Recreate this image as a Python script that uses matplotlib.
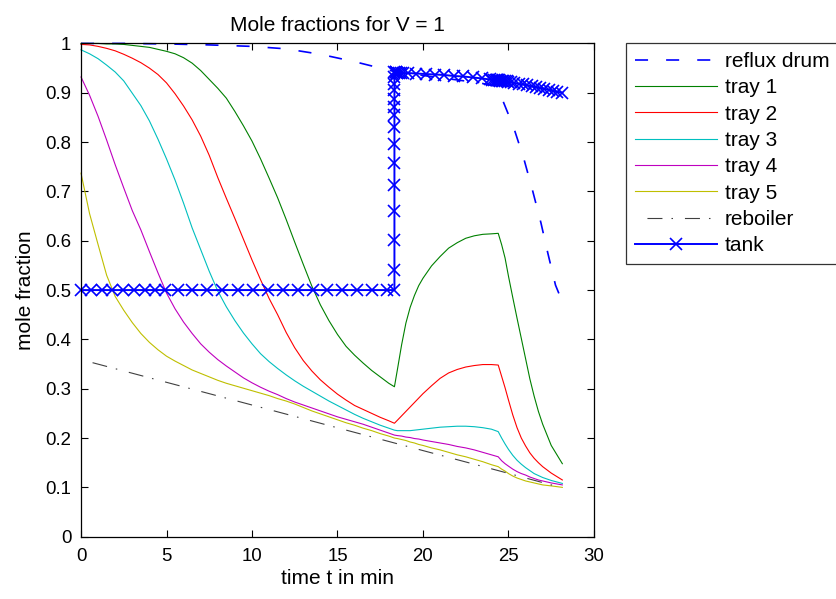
import matplotlib
matplotlib.use("Agg")
import matplotlib.pyplot as plt

plt.rcParams['font.family'] = ['Liberation Sans', 'DejaVu Sans']
plt.rcParams['lines.scale_dashes'] = False

# common time grid for the trays (min)
t = [0, 0.5, 1, 1.5, 2, 2.5, 3, 3.5, 4, 4.5, 5, 5.5, 6, 6.5, 7, 7.5, 8, 8.5, 9, 9.5,
     10, 10.5, 11, 11.5, 12, 12.5, 13, 13.5,
     14, 14.5, 15, 15.5, 16, 16.5, 17, 17.5, 18,
     18.33, 18.5, 18.75, 19, 19.25, 19.5, 19.75, 20, 20.5, 21, 21.5, 22, 22.5, 23, 23.5, 24, 24.4,
     24.6, 24.8, 25, 25.25, 25.5, 25.75, 26, 26.25, 26.5, 26.75, 27, 27.5, 28.15]

tray1 = [1.000, 1.000, 1.000, 0.999, 0.999, 0.998, 0.996, 0.994, 0.992, 0.988,
         0.984, 0.979, 0.971, 0.960, 0.945, 0.927, 0.909, 0.889, 0.862, 0.833,
         0.802, 0.766, 0.727, 0.687, 0.643, 0.597, 0.552, 0.508,
         0.470, 0.438, 0.410, 0.386, 0.368, 0.352, 0.337, 0.324, 0.311,
         0.304, 0.338, 0.389, 0.433, 0.465, 0.489, 0.509, 0.524, 0.549, 0.568, 0.585, 0.596, 0.605, 0.610, 0.613, 0.614, 0.615,
         0.592, 0.565, 0.528, 0.485, 0.443, 0.402, 0.361, 0.320, 0.285, 0.254, 0.228, 0.185, 0.148]
tray2 = [0.998, 0.997, 0.994, 0.990, 0.985, 0.978, 0.970, 0.961, 0.950, 0.937,
         0.920, 0.898, 0.873, 0.845, 0.812, 0.773, 0.728, 0.686, 0.645, 0.603,
         0.561, 0.521, 0.483, 0.450, 0.414, 0.383, 0.357, 0.336,
         0.318, 0.303, 0.289, 0.277, 0.266, 0.258, 0.250, 0.242, 0.235,
         0.230, 0.236, 0.245, 0.254, 0.263, 0.272, 0.281, 0.290, 0.306, 0.321, 0.332, 0.339, 0.344, 0.347, 0.349, 0.349, 0.348,
         0.325, 0.302, 0.277, 0.247, 0.221, 0.200, 0.184, 0.170, 0.159, 0.150, 0.142, 0.129, 0.115]
tray3 = [0.987, 0.979, 0.969, 0.956, 0.942, 0.924, 0.899, 0.874, 0.843, 0.806,
         0.766, 0.723, 0.676, 0.626, 0.582, 0.538, 0.498, 0.466, 0.438, 0.413,
         0.391, 0.371, 0.355, 0.341, 0.328, 0.316, 0.305, 0.295,
         0.285, 0.275, 0.266, 0.257, 0.248, 0.240, 0.233, 0.226, 0.220,
         0.216, 0.215, 0.215, 0.215, 0.215, 0.216, 0.217, 0.218, 0.220, 0.222, 0.223, 0.224, 0.224, 0.223, 0.221, 0.218, 0.213,
         0.200, 0.188, 0.177, 0.165, 0.155, 0.147, 0.140, 0.134, 0.128, 0.124, 0.120, 0.114, 0.108]
tray4 = [0.932, 0.895, 0.852, 0.804, 0.754, 0.707, 0.661, 0.622, 0.578, 0.535,
         0.494, 0.462, 0.435, 0.412, 0.391, 0.374, 0.359, 0.346, 0.334, 0.322,
         0.312, 0.303, 0.295, 0.288, 0.280, 0.273, 0.267, 0.261,
         0.255, 0.249, 0.243, 0.238, 0.233, 0.228, 0.222, 0.216, 0.210,
         0.206, 0.205, 0.204, 0.202, 0.201, 0.199, 0.198, 0.196, 0.193, 0.190, 0.187, 0.183, 0.180, 0.176, 0.171, 0.166, 0.162,
         0.154, 0.148, 0.143, 0.137, 0.132, 0.128, 0.125, 0.121, 0.118, 0.115, 0.113, 0.109, 0.105]
tray5 = [0.737, 0.655, 0.592, 0.530, 0.487, 0.459, 0.434, 0.412, 0.394, 0.379,
         0.366, 0.356, 0.347, 0.338, 0.331, 0.324, 0.317, 0.311, 0.306, 0.301,
         0.296, 0.291, 0.286, 0.280, 0.275, 0.269, 0.262, 0.255,
         0.249, 0.243, 0.237, 0.231, 0.226, 0.220, 0.215, 0.209, 0.204,
         0.200, 0.199, 0.197, 0.195, 0.192, 0.190, 0.187, 0.185, 0.180, 0.176, 0.171, 0.166, 0.162, 0.157, 0.152, 0.146, 0.142,
         0.137, 0.133, 0.128, 0.123, 0.119, 0.116, 0.113, 0.111, 0.109, 0.107, 0.105, 0.103, 0.100]

reboiler_t = [0, 10, 18.33, 24.4, 28.15]
reboiler = [0.359, 0.267, 0.190, 0.134, 0.099]

drum_t = [0, 2.5, 5, 7.5, 10, 12, 14, 16, 17.5, 18.33, 20, 22, 23.3, 24.2,
          24.6, 25.3, 25.9, 26.4, 26.9, 27.3, 27.75, 28.15]
drum = [1.000, 1.000, 0.999, 0.997, 0.994, 0.989, 0.978, 0.963, 0.950, 0.943,
        0.935, 0.926, 0.920, 0.914, 0.890, 0.830, 0.766, 0.703, 0.636, 0.575,
        0.510, 0.476]

tank_t = [0, 0.6, 1.2, 1.82, 2.46, 3.1, 3.77, 4.35, 4.94, 5.68, 6.47, 7.35, 8.22,
          9.2, 10.08, 10.95, 11.83, 12.71, 13.59, 14.37, 15.25, 16.13, 17.01, 17.89,
          18.33, 18.33, 18.33, 18.33, 18.33, 18.33, 18.33, 18.33, 18.33, 18.33,
          18.33, 18.33, 18.33, 18.33, 18.33,
          18.4, 18.45, 18.5, 18.6, 18.7, 18.85, 19.1, 19.6, 20.15, 20.7, 21.25,
          21.8, 22.35, 22.9, 23.45, 23.9, 24.05, 24.15, 24.25, 24.3, 24.35, 24.4,
          24.45, 24.5, 24.6, 24.7, 24.8, 24.9, 25.0, 25.15, 25.35, 25.6, 25.85,
          26.1, 26.35, 26.6, 26.85, 27.1, 27.35, 27.6, 27.85, 28.15]
tank = [0.5, 0.5, 0.5, 0.5, 0.5, 0.5, 0.5, 0.5, 0.5, 0.5, 0.5, 0.5, 0.5,
        0.5, 0.5, 0.5, 0.5, 0.5, 0.5, 0.5, 0.5, 0.5, 0.5, 0.5,
        0.5, 0.541, 0.602, 0.66, 0.714, 0.757, 0.796, 0.83, 0.854, 0.871,
        0.888, 0.905, 0.918, 0.932, 0.942,
        0.942, 0.942, 0.941, 0.941, 0.941, 0.940, 0.940, 0.939, 0.938, 0.937, 0.936,
        0.934, 0.933, 0.931, 0.929, 0.927, 0.926, 0.926, 0.926, 0.925, 0.925, 0.925,
        0.925, 0.924, 0.924, 0.924, 0.923, 0.923, 0.922, 0.921, 0.920, 0.918, 0.917,
        0.915, 0.913, 0.911, 0.910, 0.908, 0.906, 0.904, 0.902, 0.900]

fig = plt.figure(figsize=(8.36, 5.99), dpi=100)
ax = fig.add_axes([0.0969, 0.104, 0.6136, 0.8235])

ax.plot(drum_t, drum, color=(0, 0, 1), lw=1.2, linestyle=(0, (9.4, 13)),
        label='reflux drum', clip_on=False)
ax.plot(t, tray1, color=(0, 0.5, 0), lw=0.8, label='tray 1', clip_on=False)
ax.plot(t, tray2, color=(1, 0, 0), lw=0.8, label='tray 2', clip_on=False)
ax.plot(t, tray3, color=(0, 0.75, 0.75), lw=0.8, label='tray 3', clip_on=False)
ax.plot(t, tray4, color=(0.75, 0, 0.75), lw=0.8, label='tray 4', clip_on=False)
ax.plot(t, tray5, color=(0.75, 0.75, 0), lw=0.8, label='tray 5', clip_on=False)
ax.plot(reboiler_t, reboiler, color=(0.25, 0.25, 0.25), lw=0.8,
        linestyle=(18.4, (10.8, 6.5, 1.1, 8.6)), label='reboiler', clip_on=False)
ax.plot(tank_t, tank, color=(0, 0, 1), lw=1.4, marker='x', markersize=8,
        markeredgewidth=1.2, label='tank', clip_on=False)

ax.set_xlim(0, 30)
ax.set_ylim(0, 1)
ax.set_xticks([0, 5, 10, 15, 20, 25, 30])
ax.set_yticks([0, 0.1, 0.2, 0.3, 0.4, 0.5, 0.6, 0.7, 0.8, 0.9, 1])
ax.set_yticklabels(['0', '0.1', '0.2', '0.3', '0.4', '0.5', '0.6', '0.7', '0.8', '0.9', '1'])
ax.tick_params(direction='in', top=True, right=True, length=5, width=0.8, labelsize=13.4)
ax.tick_params(axis='x', pad=8.3)
ax.tick_params(axis='y', pad=7)
for s in ax.spines.values():
    s.set_linewidth(0.9)

ax.set_title('Mole fractions for V = 1', fontsize=15, pad=8.8)
ax.set_xlabel('time t in min', fontsize=15, labelpad=3)
ax.set_ylabel('mole fraction', fontsize=15, labelpad=7)

leg = fig.legend(loc='upper left', bbox_to_anchor=(0.7488, 0.9277), fontsize=15,
                 frameon=True, fancybox=False, edgecolor='black', numpoints=1,
                 handlelength=3.95, handletextpad=0.38, labelspacing=0.35,
                 borderpad=0.42, borderaxespad=0)
leg.get_frame().set_linewidth(0.9)

fig.savefig('out.png', dpi=100)
